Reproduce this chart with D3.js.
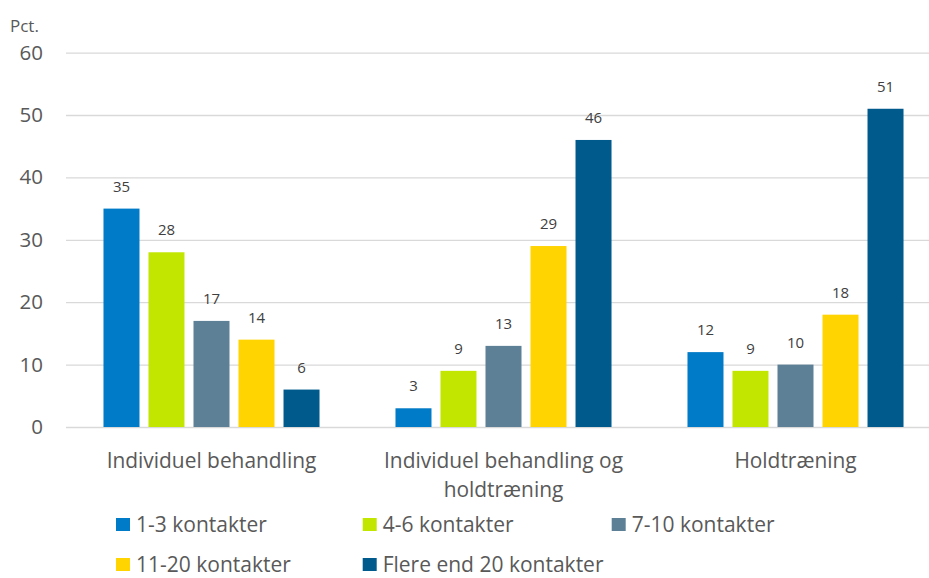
<!DOCTYPE html>
<html>
<head>
<meta charset="utf-8">
<script src="https://cdn.jsdelivr.net/npm/d3@7"></script>
<style>
  body { margin: 0; background: #fff; }
  svg { display: block; font-family: "Open Sans", sans-serif; }
</style>
</head>
<body>
<svg id="chart" width="929" height="578"></svg>
<script>
// data
var categories = ["Individuel behandling", "Individuel behandling og holdtræning", "Holdtræning"];
var series = ["1-3 kontakter", "4-6 kontakter", "7-10 kontakter", "11-20 kontakter", "Flere end 20 kontakter"];
var values = [
  [35, 3, 12],   // 1-3 kontakter
  [28, 9, 9],    // 4-6 kontakter
  [17, 13, 10],  // 7-10 kontakter
  [14, 29, 18],  // 11-20 kontakter
  [6, 46, 51]    // Flere end 20 kontakter
];
var colors = ["#007BC7", "#C2E600", "#5E8096", "#FFD400", "#005A8C"];
var yTicks = [0, 10, 20, 30, 40, 50, 60];

var width = 929, height = 578;
var svg = d3.select("#chart");

var plotLeft = 66, plotRight = 929;
var y = d3.scaleLinear().domain([0, 60]).range([427, 52.6]);
var x0 = d3.scaleBand().domain(categories).range([65.5, 941.5]);
var x1 = d3.scaleBand().domain(series).range([0, x0.bandwidth()])
  .paddingInner(0.2).paddingOuter(0.844);

// gridlines + y tick labels
var yAxis = svg.append("g")
  .attr("transform", "translate(" + plotLeft + ",0)")
  .call(d3.axisLeft(y).tickValues(yTicks).tickSize(-(plotRight - plotLeft)).tickPadding(23));
yAxis.select(".domain").remove();
yAxis.selectAll(".tick line").attr("stroke", "#d9d9d9").attr("stroke-width", 1.3);
yAxis.selectAll(".tick text")
  .attr("fill", "#595959")
  .style("font-size", "20.5px")
  .style("font-family", "'Open Sans', sans-serif");

svg.append("text")
  .attr("x", 10).attr("y", 32)
  .attr("fill", "#595959")
  .style("font-size", "17px")
  .text("Pct.");

// bars
series.forEach(function(s, si) {
  var g = svg.append("g");
  g.selectAll("rect")
    .data(values[si])
    .enter().append("rect")
      .attr("x", function(d, i) { return x0(categories[i]) + x1(s); })
      .attr("y", function(d) { return y(d); })
      .attr("width", x1.bandwidth())
      .attr("height", function(d) { return y(0) - y(d); })
      .attr("fill", colors[si]);
  g.selectAll("text")
    .data(values[si])
    .enter().append("text")
      .attr("x", function(d, i) { return x0(categories[i]) + x1(s) + x1.bandwidth() / 2; })
      .attr("y", function(d) { return y(d) - 17; })
      .attr("text-anchor", "middle")
      .attr("fill", "#404040")
      .style("font-size", "15px")
      .text(function(d) { return d; });
});

// category axis
var xAxis = svg.append("g")
  .attr("transform", "translate(0," + y(0) + ")")
  .call(d3.axisBottom(x0).tickSize(0).tickPadding(0));
xAxis.select(".domain").remove();
xAxis.selectAll(".tick text")
  .attr("fill", "#595959")
  .attr("y", 40.5)
  .attr("dy", 0)
  .style("font-size", "20.9px")
  .style("font-family", "'Open Sans', sans-serif")
  .call(wrap, 275);

function wrap(text, w) {
  text.each(function() {
    var t = d3.select(this),
        words = t.text().split(/\s+/),
        line = [],
        lineNo = 0,
        yy = t.attr("y"),
        tspan = t.text(null).append("tspan").attr("x", 0).attr("y", yy);
    words.forEach(function(word) {
      line.push(word);
      tspan.text(line.join(" "));
      if (tspan.node().getComputedTextLength() > w && line.length > 1) {
        line.pop();
        tspan.text(line.join(" "));
        line = [word];
        lineNo++;
        tspan = t.append("tspan").attr("x", 0).attr("y", +yy + lineNo * 29).text(word);
      }
    });
  });
}

// legend
var legendPos = [[116, 518], [362.7, 518], [611.7, 518], [116, 558], [362.7, 558]];
var legend = svg.append("g");
series.forEach(function(s, si) {
  var p = legendPos[si];
  legend.append("rect")
    .attr("x", p[0]).attr("y", p[1])
    .attr("width", 14).attr("height", 13)
    .attr("fill", colors[si]);
  legend.append("text")
    .attr("x", p[0] + 20).attr("y", p[1] + 14)
    .attr("fill", "#595959")
    .style("font-size", "21px")
    .text(s);
});
</script>
</body>
</html>
